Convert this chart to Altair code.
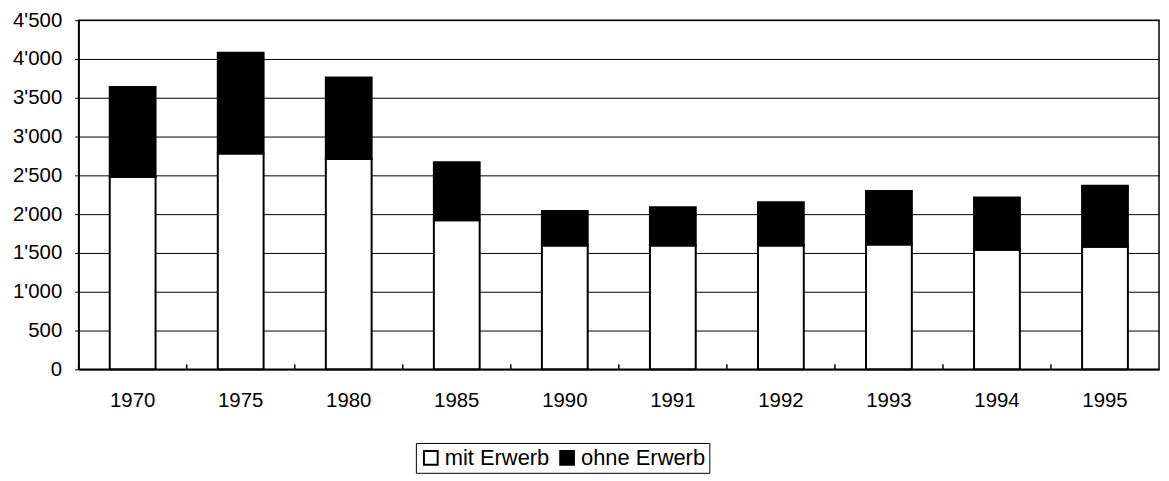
import altair as alt
import pandas as pd

years = ["1970", "1975", "1980", "1985", "1990", "1991", "1992", "1993", "1994", "1995"]
mit_erwerb = [2480, 2780, 2710, 1920, 1595, 1595, 1595, 1610, 1540, 1580]
ohne_erwerb = [1160, 1300, 1050, 750, 445, 495, 560, 690, 675, 785]
series = ["mit Erwerb", "ohne Erwerb"]
y_ticks = [0, 500, 1000, 1500, 2000, 2500, 3000, 3500, 4000, 4500]

rows = []
for i, yr in enumerate(years):
    rows.append({"year": yr, "serie": series[0], "value": mit_erwerb[i], "ord": 0})
    rows.append({"year": yr, "serie": series[1], "value": ohne_erwerb[i], "ord": 1})
df = pd.DataFrame(rows)
ticks_df = pd.DataFrame({"year": years})

FONT = "Liberation Sans"
W, H = 1086, 351
P_IN = 0.576
STEP = W / len(years)

xscale = alt.Scale(domain=years, paddingInner=P_IN, paddingOuter=P_IN / 2)

bars = alt.Chart(df).mark_bar(stroke="black", strokeWidth=2).encode(
    x=alt.X("year:N", scale=xscale, sort=years,
            axis=alt.Axis(title=None, labelAngle=0, labelFontSize=20.5, labelFont=FONT,
                          labelColor="black", ticks=False, labelPadding=21,
                          domainColor="black", domainWidth=1.5, grid=False)),
    y=alt.Y("value:Q", stack="zero",
            scale=alt.Scale(domain=[0, 4500], nice=False),
            axis=alt.Axis(title=None, values=y_ticks, labelFontSize=20.5, labelFont=FONT,
                          labelColor="black", tickColor="black", tickSize=4,
                          labelPadding=13, domainColor="black", domainWidth=1.5,
                          grid=True, gridColor="black", gridWidth=1, gridOpacity=1,
                          labelExpr="replace(format(datum.value, ','), ',', \"'\")")),
    color=alt.Color("serie:N",
                    scale=alt.Scale(domain=series, range=["white", "black"]),
                    legend=alt.Legend(title=None, orient="none", legendX=339, legendY=425,
                                      direction="horizontal", strokeColor="black",
                                      fillColor="white", padding=4,
                                      symbolType="square", symbolSize=190,
                                      symbolStrokeColor="black", symbolStrokeWidth=2,
                                      labelFontSize=22, labelFont=FONT, labelColor="black",
                                      labelOffset=3, columnPadding=6)),
    order=alt.Order("ord:Q"),
)

xticks = alt.Chart(ticks_df).mark_rule(color="black", strokeWidth=1.5,
                                       xOffset=-(P_IN / 2) * STEP).encode(
    x=alt.X("year:N", scale=xscale, sort=years, bandPosition=0),
    y=alt.value(H - 5),
    y2=alt.value(H),
)

chart = alt.layer(bars, xticks).properties(
    width=W, height=H,
    autosize="none",
    padding={"left": 71, "top": 11, "right": 2, "bottom": 109},
    background="white",
).configure_view(stroke="black", strokeWidth=1.5)

chart.save("out.html", embed_options={"renderer": "svg", "actions": False})
